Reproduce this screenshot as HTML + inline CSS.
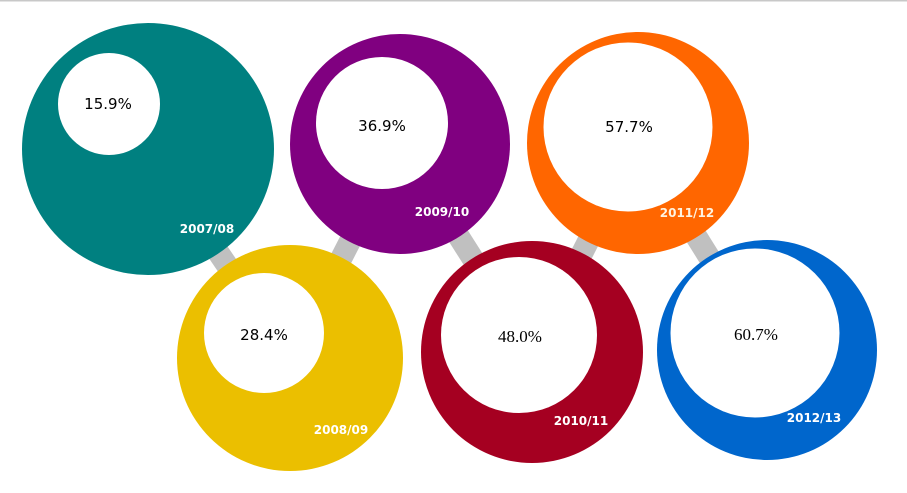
<!DOCTYPE html>
<html><head><meta charset="utf-8"><style>
html,body{margin:0;padding:0;background:#fff;width:907px;height:493px;overflow:hidden}
svg text{font-family:"DejaVu Sans","Liberation Sans",sans-serif}
</style></head><body>
<svg width="907" height="493" viewBox="0 0 907 493" xmlns="http://www.w3.org/2000/svg">
<rect x="0" y="0" width="907" height="1.5" fill="#c8c8c8"/>
<g stroke="#c0c0c0" stroke-width="22">
<line x1="148" y1="149" x2="290" y2="358"/>
<line x1="290" y1="358" x2="400" y2="144"/>
<line x1="400" y1="144" x2="532" y2="352"/>
<line x1="532" y1="352" x2="638" y2="143"/>
<line x1="638" y1="143" x2="767" y2="350"/>
</g>
<circle cx="148" cy="149" r="126" fill="#008080"/>
<circle cx="109" cy="104" r="51" fill="#fff"/>
<circle cx="290" cy="358" r="113" fill="#ebbf00"/>
<circle cx="264" cy="333" r="60" fill="#fff"/>
<circle cx="400" cy="144" r="110" fill="#800080"/>
<circle cx="382" cy="123" r="66" fill="#fff"/>
<circle cx="532" cy="352" r="111" fill="#a50021"/>
<circle cx="519" cy="335" r="78" fill="#fff"/>
<circle cx="638" cy="143" r="111" fill="#ff6600"/>
<circle cx="628" cy="127" r="84.5" fill="#fff"/>
<circle cx="767" cy="350" r="110" fill="#0066cc"/>
<circle cx="755" cy="333" r="84.5" fill="#fff"/>
<g font-size="15" fill="#000" text-anchor="middle">
<text x="108" y="109">15.9%</text>
<text x="264" y="340">28.4%</text>
<text x="382" y="131">36.9%</text>
<text x="520" y="342" style="font-family:'Liberation Serif',serif;font-size:17px">48.0%</text>
<text x="629" y="132">57.7%</text>
<text x="756" y="340" style="font-family:'Liberation Serif',serif;font-size:17px">60.7%</text>
</g>
<g font-size="12" font-weight="bold" fill="#fff" text-anchor="middle">
<text x="207" y="233">2007/08</text>
<text x="341" y="434">2008/09</text>
<text x="442" y="216">2009/10</text>
<text x="581" y="425">2010/11</text>
<text x="687" y="217" fill="#fff3e0">2011/12</text>
<text x="814" y="422">2012/13</text>
</g>
</svg>
</body></html>
